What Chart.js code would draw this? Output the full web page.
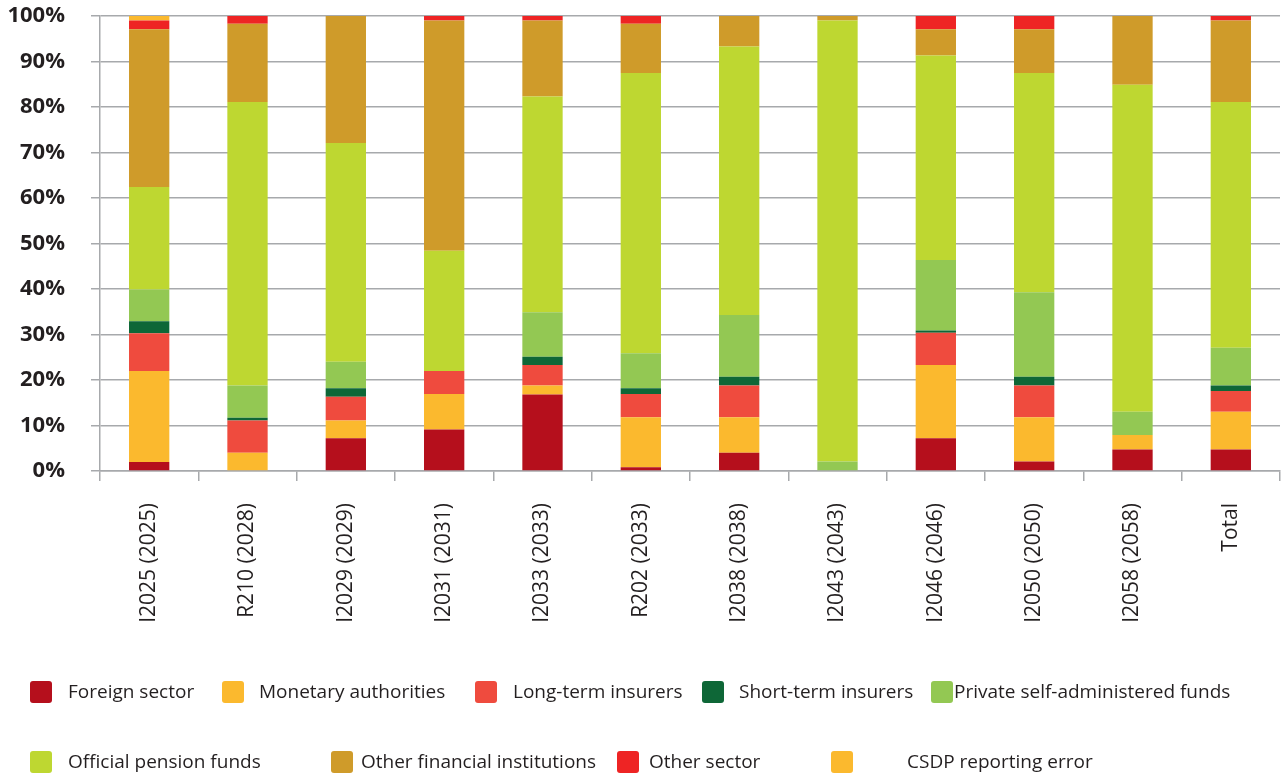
<!DOCTYPE html>
<html>
<head>
<meta charset="utf-8">
<title>Holdings by sector</title>
<script src="https://cdn.jsdelivr.net/npm/chart.js@4.4.1/dist/chart.umd.min.js"></script>
<style>
  html, body { margin: 0; padding: 0; background: #fff; }
  #wrap { position: relative; width: 1282px; height: 777px; }
  #legend { position: absolute; left: 0; top: 0; width: 1282px; height: 777px; pointer-events: none;
            font-family: "Open Sans", sans-serif; font-size: 19px; color: #231f20; }
  .item { position: absolute; white-space: nowrap; line-height: 24px; }
  .swatch { position: absolute; width: 22px; height: 22px; border-radius: 3px; }
</style>
</head>
<body>
<div id="wrap">
  <canvas id="chart" width="1282" height="777"></canvas>
  <div id="legend"></div>
</div>
<script>
const categories = ['I2025 (2025)', 'R210 (2028)', 'I2029 (2029)', 'I2031 (2031)', 'I2033 (2033)', 'R202 (2033)',
  'I2038 (2038)', 'I2043 (2043)', 'I2046 (2046)', 'I2050 (2050)', 'I2058 (2058)', 'Total'];

// shares in percent, bottom of the stack first
const foreignSector       = [2.0, 0,    7.2,  9.1,  16.8, 0.8,  4.0,  0,    7.2,  2.1,  4.7,  4.7];
const monetaryAuthorities = [20.0, 4.0, 3.9,  7.8,  2.0,  11.0, 7.8,  0,    16.1, 9.7,  3.2,  8.3];
const longTermInsurers    = [8.3, 7.1,  5.2,  5.1,  4.5,  5.1,  7.0,  0,    7.1,  7.0,  0,    4.6];
const shortTermInsurers   = [2.6, 0.6,  1.9,  0,    1.8,  1.3,  1.9,  0,    0.5,  1.9,  0,    1.2];
const privateFunds        = [7.0, 7.1,  5.8,  0,    9.8,  7.7,  13.6, 2.1,  15.5, 18.6, 5.1,  8.3];
const officialPension     = [22.5, 62.3, 48.1, 26.4, 47.4, 61.6, 59.0, 96.9, 44.9, 48.2, 71.9, 54.0];
const otherFinancial      = [34.7, 17.2, 27.9, 50.6, 16.7, 10.8, 6.7,  1.0,  5.8,  9.6,  15.1, 17.9];
const otherSector         = [1.9, 1.7,  0,    1.0,  1.0,  1.7,  0,    0,    2.9,  2.9,  0,    1.0];
const csdpError           = [1.0, 0,    0,    0,    0,    0,    0,    0,    0,    0,    0,    0];

const yTicks = [0, 10, 20, 30, 40, 50, 60, 70, 80, 90, 100];

const series = [
  { label: 'Foreign sector', data: foreignSector, color: '#b50f1c' },
  { label: 'Monetary authorities', data: monetaryAuthorities, color: '#fbb92e' },
  { label: 'Long-term insurers', data: longTermInsurers, color: '#ef4b3e' },
  { label: 'Short-term insurers', data: shortTermInsurers, color: '#0e6737' },
  { label: 'Private self-administered funds', data: privateFunds, color: '#93c853' },
  { label: 'Official pension funds', data: officialPension, color: '#bed731' },
  { label: 'Other financial institutions', data: otherFinancial, color: '#cf9b2a' },
  { label: 'Other sector', data: otherSector, color: '#ee2424' },
  { label: 'CSDP reporting error', data: csdpError, color: '#fbb92e' }
];

// legend placement: swatch x, text x, row centre y (same order as series)
const legendSpots = [
  [30, 68, 692], [222, 259, 692], [475, 513, 692], [702, 739, 692], [931, 954, 692],
  [30, 68, 762], [331, 361, 762], [617, 649, 762], [831, 907, 762]
];

const gridGrey = '#a7a9ac';

new Chart(document.getElementById('chart'), {
  type: 'bar',
  data: {
    labels: categories,
    datasets: series.map(s => ({
      label: s.label,
      data: s.data,
      backgroundColor: s.color,
      borderWidth: 0,
      barPercentage: 0.41,
      categoryPercentage: 1
    }))
  },
  options: {
    responsive: false,
    animation: false,
    layout: { padding: { top: 16, right: 2, left: 0, bottom: 0 } },
    plugins: { legend: { display: false }, tooltip: { enabled: false } },
    scales: {
      x: {
        stacked: true,
        grid: { drawOnChartArea: false, drawTicks: true, tickLength: 10, color: gridGrey, lineWidth: 1.5, offset: true },
        border: { display: true, color: gridGrey, width: 1.5 },
        ticks: {
          minRotation: 90, maxRotation: 90, padding: 22,
          color: '#231f20',
          font: { family: 'Open Sans', size: 21 }
        },
        afterFit: scale => { scale.height = 777 - 471; }
      },
      y: {
        stacked: true,
        min: 0, max: 100,
        afterBuildTicks: scale => { scale.ticks = yTicks.map(v => ({ value: v })); },
        grid: { color: gridGrey, lineWidth: 1.5, tickLength: 9 },
        border: { display: true, color: gridGrey, width: 1.5 },
        ticks: {
          padding: 26,
          color: '#231f20',
          font: { family: 'Open Sans', size: 22, weight: 'bold' },
          callback: v => v + '%'
        },
        // the wide label padding must not push the plot down
        afterFit: scale => { scale.width = 100; scale.paddingTop = 0; scale.paddingBottom = 0; }
      }
    }
  }
});

const legend = document.getElementById('legend');
series.forEach((s, i) => {
  const [sx, tx, cy] = legendSpots[i];
  const sw = document.createElement('div');
  sw.className = 'swatch';
  sw.style.left = sx + 'px';
  sw.style.top = (cy - 11) + 'px';
  sw.style.background = s.color;
  legend.appendChild(sw);
  const txt = document.createElement('div');
  txt.className = 'item';
  txt.style.left = tx + 'px';
  txt.style.top = (cy - 13) + 'px';
  txt.textContent = s.label;
  legend.appendChild(txt);
});
</script>
</body>
</html>
